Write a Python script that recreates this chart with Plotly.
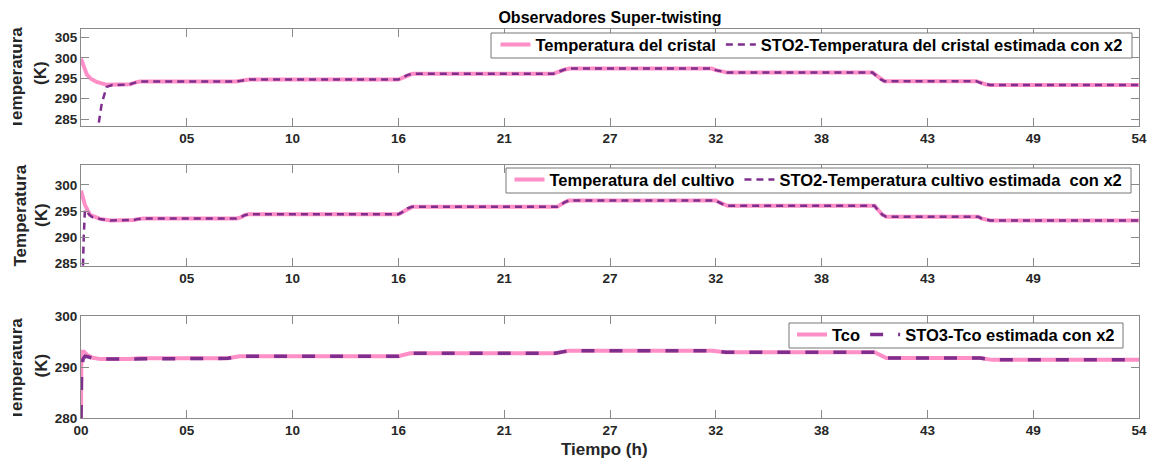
import plotly.graph_objects as go

# ---- time axis (hours) and tick labels ----
tick_hours = [0, 5.4, 10.8, 16.2, 21.6, 27.0, 32.4, 37.8, 43.2, 48.6, 54.0]
tick_text_p1 = ["", "05", "10", "16", "21", "27", "32", "38", "43", "49", "54"]
tick_text_p2 = ["", "05", "10", "16", "21", "27", "32", "38", "43", "49", ""]
tick_text_p3 = ["00", "05", "10", "16", "21", "27", "32", "38", "43", "49", "54"]

# ---- crystal temperature (K) ----
t_cristal = [0, 0.1, 0.2, 0.3, 0.5, 0.8, 1.3, 2.3, 2.5, 2.8, 3.0, 7.9, 8.1, 8.35, 8.6,
             16.2, 16.4, 16.65, 16.9, 24.1, 24.3, 24.65, 24.95, 32.2, 32.4, 32.75, 33.0,
             40.4, 40.55, 40.8, 41.0, 45.7, 45.9, 46.2, 46.4, 54]
T_cristal = [299.8, 298.3, 297.0, 295.9, 294.9, 294.1, 293.4, 293.4, 293.55, 294.0, 294.2,
             294.2, 294.35, 294.6, 294.7, 294.7, 295.1, 295.8, 296.1, 296.1, 296.5, 297.1,
             297.4, 297.4, 297.0, 296.6, 296.4, 296.4, 295.8, 294.8, 294.3, 294.3, 293.9,
             293.5, 293.35, 293.35]
# observer transient before it locks onto the measured signal
t_cristal_est0 = [0, 0.5, 0.88, 1.06, 1.31, 1.6]
T_cristal_est0 = [255.0, 271.0, 283.2, 288.9, 292.9, 293.35]
cristal_lock = 7  # index in t_cristal where the estimate has converged

# ---- culture temperature (K) ----
t_cultivo = [0, 0.1, 0.2, 0.46, 0.97, 1.5, 2.5, 2.7, 2.95, 3.2, 7.95, 8.15, 8.35, 8.55,
             16.2, 16.4, 16.65, 16.9, 24.3, 24.45, 24.7, 24.9, 32.4, 32.55, 32.8, 33.0,
             40.5, 40.65, 40.9, 41.1, 45.8, 45.95, 46.2, 46.4, 54]
T_cultivo = [298.9, 297.5, 296.2, 294.25, 293.5, 293.2, 293.2, 293.3, 293.5, 293.6, 293.6,
             293.8, 294.2, 294.4, 294.4, 294.8, 295.5, 295.8, 295.8, 296.2, 296.7, 297.0,
             297.0, 296.7, 296.2, 296.0, 296.0, 295.3, 294.3, 293.9, 293.9, 293.6, 293.3,
             293.2, 293.2]
t_cultivo_est0 = [0, 0.1, 0.14, 0.2, 0.3, 0.4, 0.55]
T_cultivo_est0 = [280.0, 284.5, 290.0, 295.2, 295.0, 294.4, 293.9]
cultivo_lock = 4

# ---- coolant temperature Tco (K) ----
t_tco = [0, 0.02, 0.15, 0.3, 0.6, 1.0, 2.5, 3.0, 7.5, 7.8, 8.1, 16.2, 16.5, 16.8, 24.2,
         24.55, 24.9, 32.2, 32.55, 32.9, 40.5, 40.8, 41.1, 45.9, 46.2, 46.5, 54]
T_tco = [280.0, 293.0, 293.0, 292.4, 291.8, 291.55, 291.55, 291.7, 291.7, 291.9, 292.1,
         292.1, 292.4, 292.7, 292.7, 293.0, 293.2, 293.2, 293.05, 292.9, 292.9, 292.3,
         291.75, 291.75, 291.55, 291.4, 291.4]
t_tco_est0 = [0, 0.03, 0.1, 0.2, 0.35, 0.6]
T_tco_est0 = [280.0, 289.0, 291.5, 292.1, 292.0, 291.7]
tco_lock = 5

# ---- styling ----
PINK = "#FF8FC7"
PURPLE = "#7E2F8E"
FONT = "Liberation Sans, Arial, Helvetica, sans-serif"
TXT = "#262626"
AX = "#8a8a8a"

fig = go.Figure()

def add_pair(t, T, t0, T0, lock, xa, ya, leg, name_true, name_est, est_width, est_dash):
    fig.add_trace(go.Scatter(x=t, y=T, mode="lines", name=name_true,
                             line=dict(color=PINK, width=4),
                             xaxis=xa, yaxis=ya, legend=leg))
    fig.add_trace(go.Scatter(x=t0 + t[lock:], y=T0 + T[lock:], mode="lines", name=name_est,
                             line=dict(color=PURPLE, width=est_width, dash=est_dash),
                             xaxis=xa, yaxis=ya, legend=leg))

add_pair(t_cristal, T_cristal, t_cristal_est0, T_cristal_est0, cristal_lock, "x", "y", "legend",
         "Temperatura del cristal", "STO2-Temperatura del cristal estimada con x2", 2.5, "7px,5px")
add_pair(t_cultivo, T_cultivo, t_cultivo_est0, T_cultivo_est0, cultivo_lock, "x2", "y2", "legend2",
         "Temperatura del cultivo", "STO2-Temperatura cultivo estimada  con x2", 2.5, "7px,5px")
add_pair(t_tco, T_tco, t_tco_est0, T_tco_est0, tco_lock, "x3", "y3", "legend3",
         "Tco", "STO3-Tco estimada con x2", 3.5, "13px,15px")

W, H = 1149, 464
L, R, T, B = 81, 10, 29, 46
PW, PH = W - L - R, H - T - B

def px_x(p):
    return (p - L) / PW

def px_y(p):
    return (H - B - p) / PH

tickfont = dict(family=FONT, size=13.5, color=TXT, weight="bold")

def xaxis(anchor, ticktext):
    return dict(anchor=anchor, domain=[0, 1], range=[0, 54], tickmode="array",
                tickvals=tick_hours, ticktext=ticktext, ticks="inside", ticklen=8,
                tickcolor=AX, tickwidth=1, showline=True, linecolor=AX, linewidth=1,
                mirror="ticks", showgrid=False, zeroline=False, tickfont=tickfont)

def yaxis(anchor, dom, rng, vals):
    return dict(anchor=anchor, domain=dom, range=rng, tickmode="array", tickvals=vals,
                ticks="inside", ticklen=8, tickcolor=AX, tickwidth=1, showline=True,
                linecolor=AX, linewidth=1, mirror="ticks", showgrid=False, zeroline=False,
                tickfont=tickfont)

LEG_SIZE = 16.5
legend_font = dict(family=FONT, size=LEG_SIZE, color="#000000", weight="bold")
# plotly legend row: entries are centred this far below the legend's top edge
ROW_MID = 1 + 5 + (LEG_SIZE * 1.3 + 3) / 2

def legend_box(x0, y0, x1, y1):
    # compact framed box behind each legend row
    return dict(type="rect", xref="paper", yref="paper", x0=px_x(x0), x1=px_x(x1),
                y0=px_y(y1), y1=px_y(y0), fillcolor="white",
                line=dict(color="#777777", width=1), layer="above")

def legend(x0, y0, x1, y1):
    return dict(orientation="h", x=px_x((x0 + x1) / 2), xanchor="center",
                y=px_y((y0 + y1) / 2 - ROW_MID), yanchor="top",
                bgcolor="rgba(0,0,0,0)", borderwidth=0, font=legend_font,
                tracegroupgap=0, itemwidth=30)

LEG1 = (491, 33, 1132, 58)
LEG2 = (506, 168, 1131, 193)
LEG3 = (789, 323, 1123, 348)

ytitle_font = dict(family=FONT, size=17, color=TXT, weight="bold")

def label(text, xc, yc):
    return dict(text=text, textangle=-90, xref="paper", yref="paper",
                x=px_x(xc), y=px_y(yc), xanchor="center", yanchor="middle",
                showarrow=False, font=ytitle_font)

def edge_mask(yc, h):
    # white strip along the left page edge
    return dict(text=" ", xref="paper", yref="paper", x=px_x(0), y=px_y(yc),
                xanchor="left", yanchor="middle", width=12.5, height=h,
                bgcolor="white", borderpad=0, borderwidth=0, showarrow=False)

annotations = [
    label("Temperatura", 16.0, 78.0), label("(K)", 40.5, 73.5),
    label("Temperatura", 20.0, 215.5), label("(K)", 42.0, 215.0),
    label("Temperatura", 16.0, 369.0), label("(K)", 40.5, 366.0),
    dict(text="Tiempo (h)", xref="paper", yref="paper", x=px_x(604), y=px_y(450),
         xanchor="center", yanchor="middle", showarrow=False, font=ytitle_font),
    edge_mask(78, 125),
    edge_mask(369, 130),
]

fig.update_layout(
    width=W, height=H,
    margin=dict(l=L, r=R, t=T, b=B, autoexpand=False),
    paper_bgcolor="white", plot_bgcolor="white",
    title=dict(text="Observadores Super-twisting", x=0.5, xref="paper", xanchor="center",
               y=1 - 17 / H, yref="container", yanchor="middle",
               font=dict(family=FONT, size=16, color="#000000", weight="bold")),
    xaxis=xaxis("y", tick_text_p1),
    xaxis2=xaxis("y2", tick_text_p2),
    xaxis3=xaxis("y3", tick_text_p3),
    yaxis=yaxis("x", [px_y(126), 1.0], [283.3, 307.1], [285, 290, 295, 300, 305]),
    yaxis2=yaxis("x2", [px_y(266), px_y(165)], [284.5, 303.8], [285, 290, 295, 300]),
    yaxis3=yaxis("x3", [0.0, px_y(316)], [280, 300], [280, 290, 300]),
    legend=legend(*LEG1),
    legend2=legend(*LEG2),
    legend3=legend(*LEG3),
    shapes=[legend_box(*LEG1), legend_box(*LEG2), legend_box(*LEG3)],
    annotations=annotations,
    showlegend=True,
)

fig.write_html("out.html")
